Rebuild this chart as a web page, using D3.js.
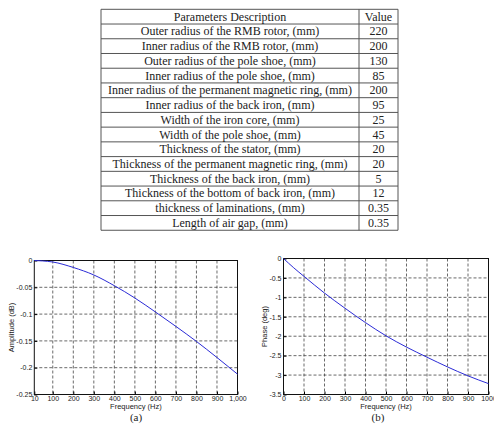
<!DOCTYPE html>
<html>
<head>
<meta charset="utf-8">
<script src="https://d3js.org/d3.v7.min.js"></script>
<style>
  body { margin: 0; background: #fff; }
  .tbl text { font: 12px "Liberation Serif", serif; fill: #222; }
  .ax text { font: 7px "Liberation Sans", Arial, sans-serif; fill: #222; }
  .lbl { font: 7.5px "Liberation Sans", Arial, sans-serif; fill: #222; }
  .cap { font: 11px "Liberation Serif", serif; fill: #222; }
</style>
</head>
<body>
<div id="chart"></div>
<script>
// table data
var descCol = ["Parameters Description",
  "Outer radius of the RMB rotor, (mm)",
  "Inner radius of the RMB rotor, (mm)",
  "Outer radius of the pole shoe, (mm)",
  "Inner radius of the pole shoe, (mm)",
  "Inner radius of the permanent magnetic ring, (mm)",
  "Inner radius of the back iron, (mm)",
  "Width of the iron core, (mm)",
  "Width of the pole shoe, (mm)",
  "Thickness of the stator, (mm)",
  "Thickness of the permanent magnetic ring, (mm)",
  "Thickness of the back iron, (mm)",
  "Thickness of the bottom of back iron, (mm)",
  "thickness of laminations, (mm)",
  "Length of air gap, (mm)"];
var valueCol = ["Value", "220", "200", "130", "85", "200", "95", "25", "45", "20", "20", "5", "12", "0.35", "0.35"];

// (a) amplitude
var freqA = [10, 50, 100, 200, 300, 400, 500, 600, 700, 800, 900, 1000];
var ampA = [0, -0.0008, -0.0028, -0.013, -0.027, -0.047, -0.070, -0.096, -0.123, -0.151, -0.181, -0.212];
var xTicksA = [10, 100, 200, 300, 400, 500, 600, 700, 800, 900, 1000];
var yTicksA = [0, -0.05, -0.1, -0.15, -0.2, -0.25];

// (b) phase
var freqB = [0, 50, 100, 200, 300, 400, 500, 600, 700, 800, 900, 1000];
var phaseB = [0, -0.24, -0.46, -0.89, -1.28, -1.65, -1.99, -2.28, -2.54, -2.79, -3.02, -3.22];
var xTicksB = [0, 100, 200, 300, 400, 500, 600, 700, 800, 900, 1000];
var yTicksB = [0, -0.5, -1, -1.5, -2, -2.5, -3, -3.5];

var svg = d3.select('#chart').append('svg')
  .attr('width', 494).attr('height', 430);

// ---- table ----
var tb = {left: 101, mid: 359, right: 398, top: 9.3, rowH: 14.73};
var nRows = descCol.length;
var tbl = svg.append('g').attr('class', 'tbl');
var rowY = d3.scaleLinear().domain([0, nRows]).range([tb.top, tb.top + nRows * tb.rowH]);

tbl.selectAll('line.h').data(d3.range(nRows + 1)).enter().append('line')
  .attr('x1', tb.left).attr('x2', tb.right)
  .attr('y1', d => rowY(d)).attr('y2', d => rowY(d))
  .attr('stroke', '#555').attr('stroke-width', 1);
[tb.left, tb.mid, tb.right].forEach(function(x) {
  tbl.append('line').attr('x1', x).attr('x2', x)
    .attr('y1', rowY(0)).attr('y2', rowY(nRows))
    .attr('stroke', '#555').attr('stroke-width', 1);
});
tbl.selectAll('text.d').data(descCol).enter().append('text')
  .attr('x', (tb.left + tb.mid) / 2)
  .attr('y', (d, i) => rowY(i + 0.5) + 4)
  .attr('text-anchor', 'middle')
  .text(d => d);
tbl.selectAll('text.v').data(valueCol).enter().append('text')
  .attr('x', (tb.mid + tb.right) / 2)
  .attr('y', (d, i) => rowY(i + 0.5) + 4)
  .attr('text-anchor', 'middle')
  .text(d => d);

// ---- plots ----
function drawPlot(box, xs, ys, xDom, yDom, xTicks, yTicks, xFmt, yLabel, caption) {
  var x = d3.scaleLinear().domain(xDom).range([box.left, box.right]);
  var y = d3.scaleLinear().domain(yDom).range([box.bottom, box.top]);
  var g = svg.append('g');

  // dashed grid
  g.selectAll('line.gx').data(xTicks.slice(1, -1)).enter().append('line')
    .attr('x1', d => x(d)).attr('x2', d => x(d))
    .attr('y1', box.top).attr('y2', box.bottom)
    .attr('stroke', '#444').attr('stroke-width', 0.8).attr('stroke-dasharray', '3,2');
  g.selectAll('line.gy').data(yTicks.slice(1, -1)).enter().append('line')
    .attr('y1', d => y(d)).attr('y2', d => y(d))
    .attr('x1', box.left).attr('x2', box.right)
    .attr('stroke', '#444').attr('stroke-width', 0.8).attr('stroke-dasharray', '3,2');

  // axes
  g.append('g').attr('class', 'ax')
    .attr('transform', 'translate(0,' + box.bottom + ')')
    .call(d3.axisBottom(x).tickValues(xTicks).tickFormat(xFmt).tickSize(-3).tickPadding(1.5))
    .call(a => a.select('.domain').remove());
  g.append('g').attr('class', 'ax')
    .attr('transform', 'translate(' + box.left + ',0)')
    .call(d3.axisLeft(y).tickValues(yTicks).tickFormat(d => String(d)).tickSize(-3).tickPadding(2))
    .call(a => a.select('.domain').remove());

  g.append('rect')
    .attr('x', box.left).attr('y', box.top)
    .attr('width', box.right - box.left).attr('height', box.bottom - box.top)
    .attr('fill', 'none').attr('stroke', '#111').attr('stroke-width', 1);

  var line = d3.line().x(d => x(d[0])).y(d => y(d[1])).curve(d3.curveMonotoneX);
  g.append('path').datum(d3.zip(xs, ys))
    .attr('d', line)
    .attr('fill', 'none').attr('stroke', '#2b2bd6').attr('stroke-width', 1);

  g.append('text').attr('class', 'lbl')
    .attr('x', (box.left + box.right) / 2).attr('y', box.bottom + 14.5)
    .attr('text-anchor', 'middle').text('Frequency (Hz)');
  g.append('text').attr('class', 'lbl')
    .attr('transform', 'translate(' + box.ylabX + ',' + (box.top + box.bottom) / 2 + ') rotate(-90)')
    .attr('text-anchor', 'middle').text(yLabel);
  g.append('text').attr('class', 'cap')
    .attr('x', box.capX).attr('y', box.bottom + 26.5)
    .attr('text-anchor', 'middle').text(caption);
}

drawPlot({left: 34.3, right: 237.5, top: 260.5, bottom: 394.5, ylabX: 14, capX: 136},
  freqA, ampA, [10, 1000], [-0.25, 0], xTicksA, yTicksA, d3.format(','), 'Amplitude (dB)', '(a)');
drawPlot({left: 283.5, right: 488.5, top: 258.5, bottom: 394.5, ylabX: 267, capX: 378},
  freqB, phaseB, [0, 1000], [-3.5, 0], xTicksB, yTicksB, d => String(d), 'Phase (deg)', '(b)');
</script>
</body>
</html>
